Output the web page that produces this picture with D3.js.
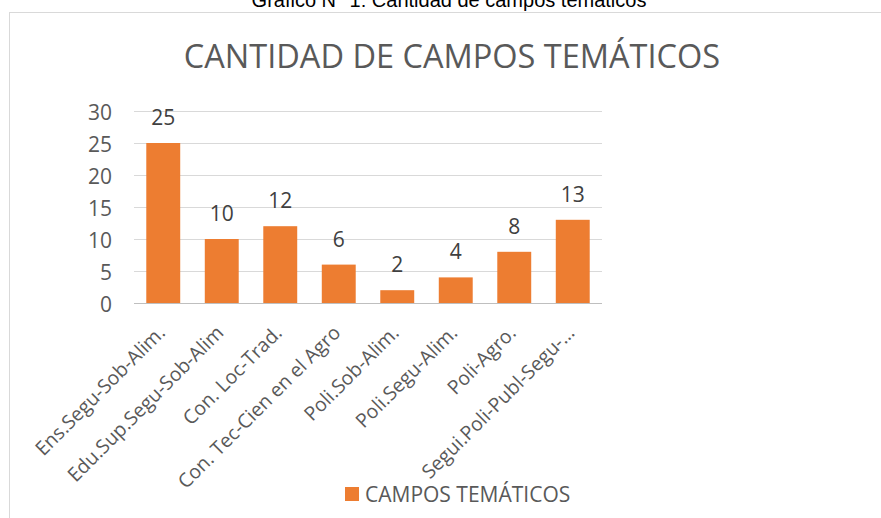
<!DOCTYPE html>
<html><head><meta charset="utf-8">
<script src="https://cdn.jsdelivr.net/npm/d3@7"></script>
<style>html,body{margin:0;padding:0;background:#fff;}svg{display:block;}</style>
</head><body>
<svg id="c" width="881" height="518"></svg>
<script>
const categories = ["Ens.Segu-Sob-Alim.","Edu.Sup.Segu-Sob-Alim","Con. Loc-Trad.","Con. Tec-Cien en el Agro","Poli.Sob-Alim.","Poli.Segu-Alim.","Poli-Agro.","Segui.Poli-Publ-Segu-…"];
const values = [25,10,12,6,2,4,8,13];
const yTicks = [0,5,10,15,20,25,30];
const seriesName = "CAMPOS TEMÁTICOS";
const chartTitle = "CANTIDAD DE CAMPOS TEMÁTICOS";
const caption = "Gráfico N° 1: Cantidad de campos temáticos";

const svg = d3.select("#c");
const font = "'Open Sans', sans-serif";
svg.append("rect").attr("width",881).attr("height",518).attr("fill","#fff");

// caption (cut off at top, as in the reference)
svg.append("text").attr("x",449).attr("y",7).attr("text-anchor","middle")
  .attr("font-family","'Liberation Sans', Arial, sans-serif").attr("font-size",20).attr("fill","#000")
  .text(caption);

// chart border
svg.append("rect").attr("x",9.5).attr("y",12.5).attr("width",1000).attr("height",600)
  .attr("fill","#fff").attr("stroke","#d9d9d9").attr("stroke-width",1);

// title
svg.append("text").attr("x",452).attr("y",68).attr("text-anchor","middle")
  .attr("font-family",font).attr("font-size",32.5).attr("fill","#595959").text(chartTitle);

const x = d3.scaleBand().domain(categories).range([134,602]).paddingInner(0.42).paddingOuter(0.21);
const y = d3.scaleLinear().domain([0,30]).range([303,111]);

// grid
const grid = svg.append("g").attr("transform","translate(134,0)")
  .call(d3.axisLeft(y).tickValues(yTicks).tickSize(-468).tickFormat(""));
grid.select(".domain").remove();
grid.selectAll(".tick line").attr("stroke","#d9d9d9").attr("shape-rendering","crispEdges");

// y tick labels
const yl = svg.append("g").attr("transform","translate(112,0)")
  .call(d3.axisLeft(y).tickValues(yTicks).tickSize(0).tickPadding(0));
yl.select(".domain").remove();
yl.selectAll("text").attr("font-family",font).attr("font-size",21).attr("fill","#595959")
  .attr("dy",null).attr("dominant-baseline","central");

// bars
svg.append("g").selectAll("rect").data(values).join("rect")
  .attr("x",(d,i)=>x(categories[i])).attr("width",x.bandwidth())
  .attr("y",d=>y(d)).attr("height",d=>y(0)-y(d)).attr("fill","#ed7d31");

// axis line
svg.append("line").attr("x1",134).attr("x2",602).attr("y1",303.5).attr("y2",303.5)
  .attr("stroke","#bfbfbf").attr("stroke-width",1);

// data labels
svg.append("g").selectAll("text").data(values).join("text")
  .attr("x",(d,i)=>x(categories[i])+x.bandwidth()/2).attr("y",d=>y(d)-18)
  .attr("text-anchor","middle").attr("font-family",font).attr("font-size",21).attr("fill","#404040")
  .text(d=>d);

// category labels
const xa = svg.append("g").attr("transform","translate(0,303)")
  .call(d3.axisBottom(x).tickSize(0).tickPadding(0));
xa.select(".domain").remove();
xa.selectAll(".tick text").attr("font-family",font).attr("font-size",19.5).attr("fill","#595959")
  .attr("text-anchor","end").attr("dy",null).attr("y",0)
  .attr("transform","translate(3,31) rotate(-45)");

// legend
const lg = svg.append("g");
lg.append("rect").attr("x",345).attr("y",487).attr("width",14).attr("height",14).attr("fill","#ed7d31");
lg.append("text").attr("x",365).attr("y",502).attr("font-family",font).attr("font-size",21)
  .attr("fill","#595959").text(seriesName);
</script>
</body></html>
